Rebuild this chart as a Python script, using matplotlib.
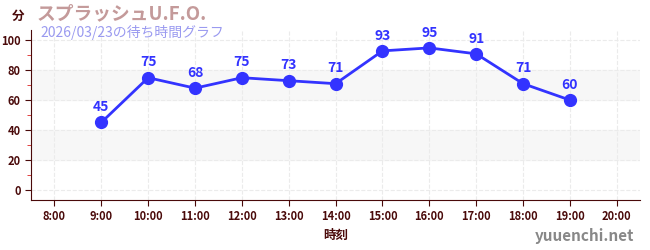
import matplotlib
matplotlib.use("Agg")
from matplotlib import pyplot as plt

#
# wait times for the day
#
hours = [9, 10, 11, 12, 13, 14, 15, 16, 17, 18, 19]
waits = [45, 75, 68, 75, 73, 71, 93, 95, 91, 71, 60]
tick_hours = list(range(8, 21))
tick_labels = [str(h) + ":00" for h in tick_hours]

plt.rcParams['font.family'] = ['Noto Sans CJK JP', 'DejaVu Sans']

fig = plt.figure(figsize=(6.5, 2.5), dpi=100)
ax = fig.add_axes([0.0477, 0.2, 0.9373, 0.68])

dark = '#4a0a0a'
blue = '#3333ff'

# grey bands
ax.axhspan(60, 80, color='#f7f7f7', zorder=0)
ax.axhspan(20, 40, color='#f7f7f7', zorder=0)

ax.plot(hours, waits, color=blue, linewidth=2, marker='o', markersize=8.5, zorder=3)
for h, w in zip(hours, waits):
    ax.annotate(str(w), (h, w), xytext=(0, 6), textcoords='offset points',
                ha='center', va='bottom', color=blue, fontsize=10, fontweight='bold')

ax.set_xlim(7.5, 20.5)
ax.set_ylim(-7, 107)
ax.set_xticks(tick_hours)
ax.set_xticklabels(tick_labels)
ax.set_yticks([0, 20, 40, 60, 80, 100])
ax.set_yticks([10, 30, 50, 70, 90], minor=True)
ax.tick_params(axis='both', labelsize=8, colors=dark, length=4)
ax.tick_params(axis='y', which='minor', colors='#dd2222', length=3)
for lbl in ax.get_xticklabels() + ax.get_yticklabels():
    lbl.set_color(dark)
    lbl.set_fontweight('bold')

ax.grid(True, which='major', linestyle='--', color='#ebebeb', linewidth=0.8)
ax.set_axisbelow(True)
for s in ['top', 'right']:
    ax.spines[s].set_visible(False)
ax.spines['left'].set_color(dark)
ax.spines['bottom'].set_color(dark)

ax.set_xlabel('時刻', fontsize=9, color=dark, fontweight='bold', labelpad=4)

fig.text(18 / 650, 1 - 16 / 250, '分', fontsize=9, color=dark, fontweight='bold', ha='center', va='center')
fig.text(37 / 650, 1 - 14 / 250, 'スプラッシュU.F.O.', fontsize=13.5, color='#c49a9a', fontweight='bold', va='center')
fig.text(40 / 650, 1 - 32 / 250, '2026/03/23の待ち時間グラフ', fontsize=10, color='#9a9af0', va='center')
fig.text(634 / 650, 1 - 236 / 250, 'yuuenchi.net', fontsize=11, color='#888888', fontweight='bold', ha='right', va='center')

plt.savefig("out.png")
